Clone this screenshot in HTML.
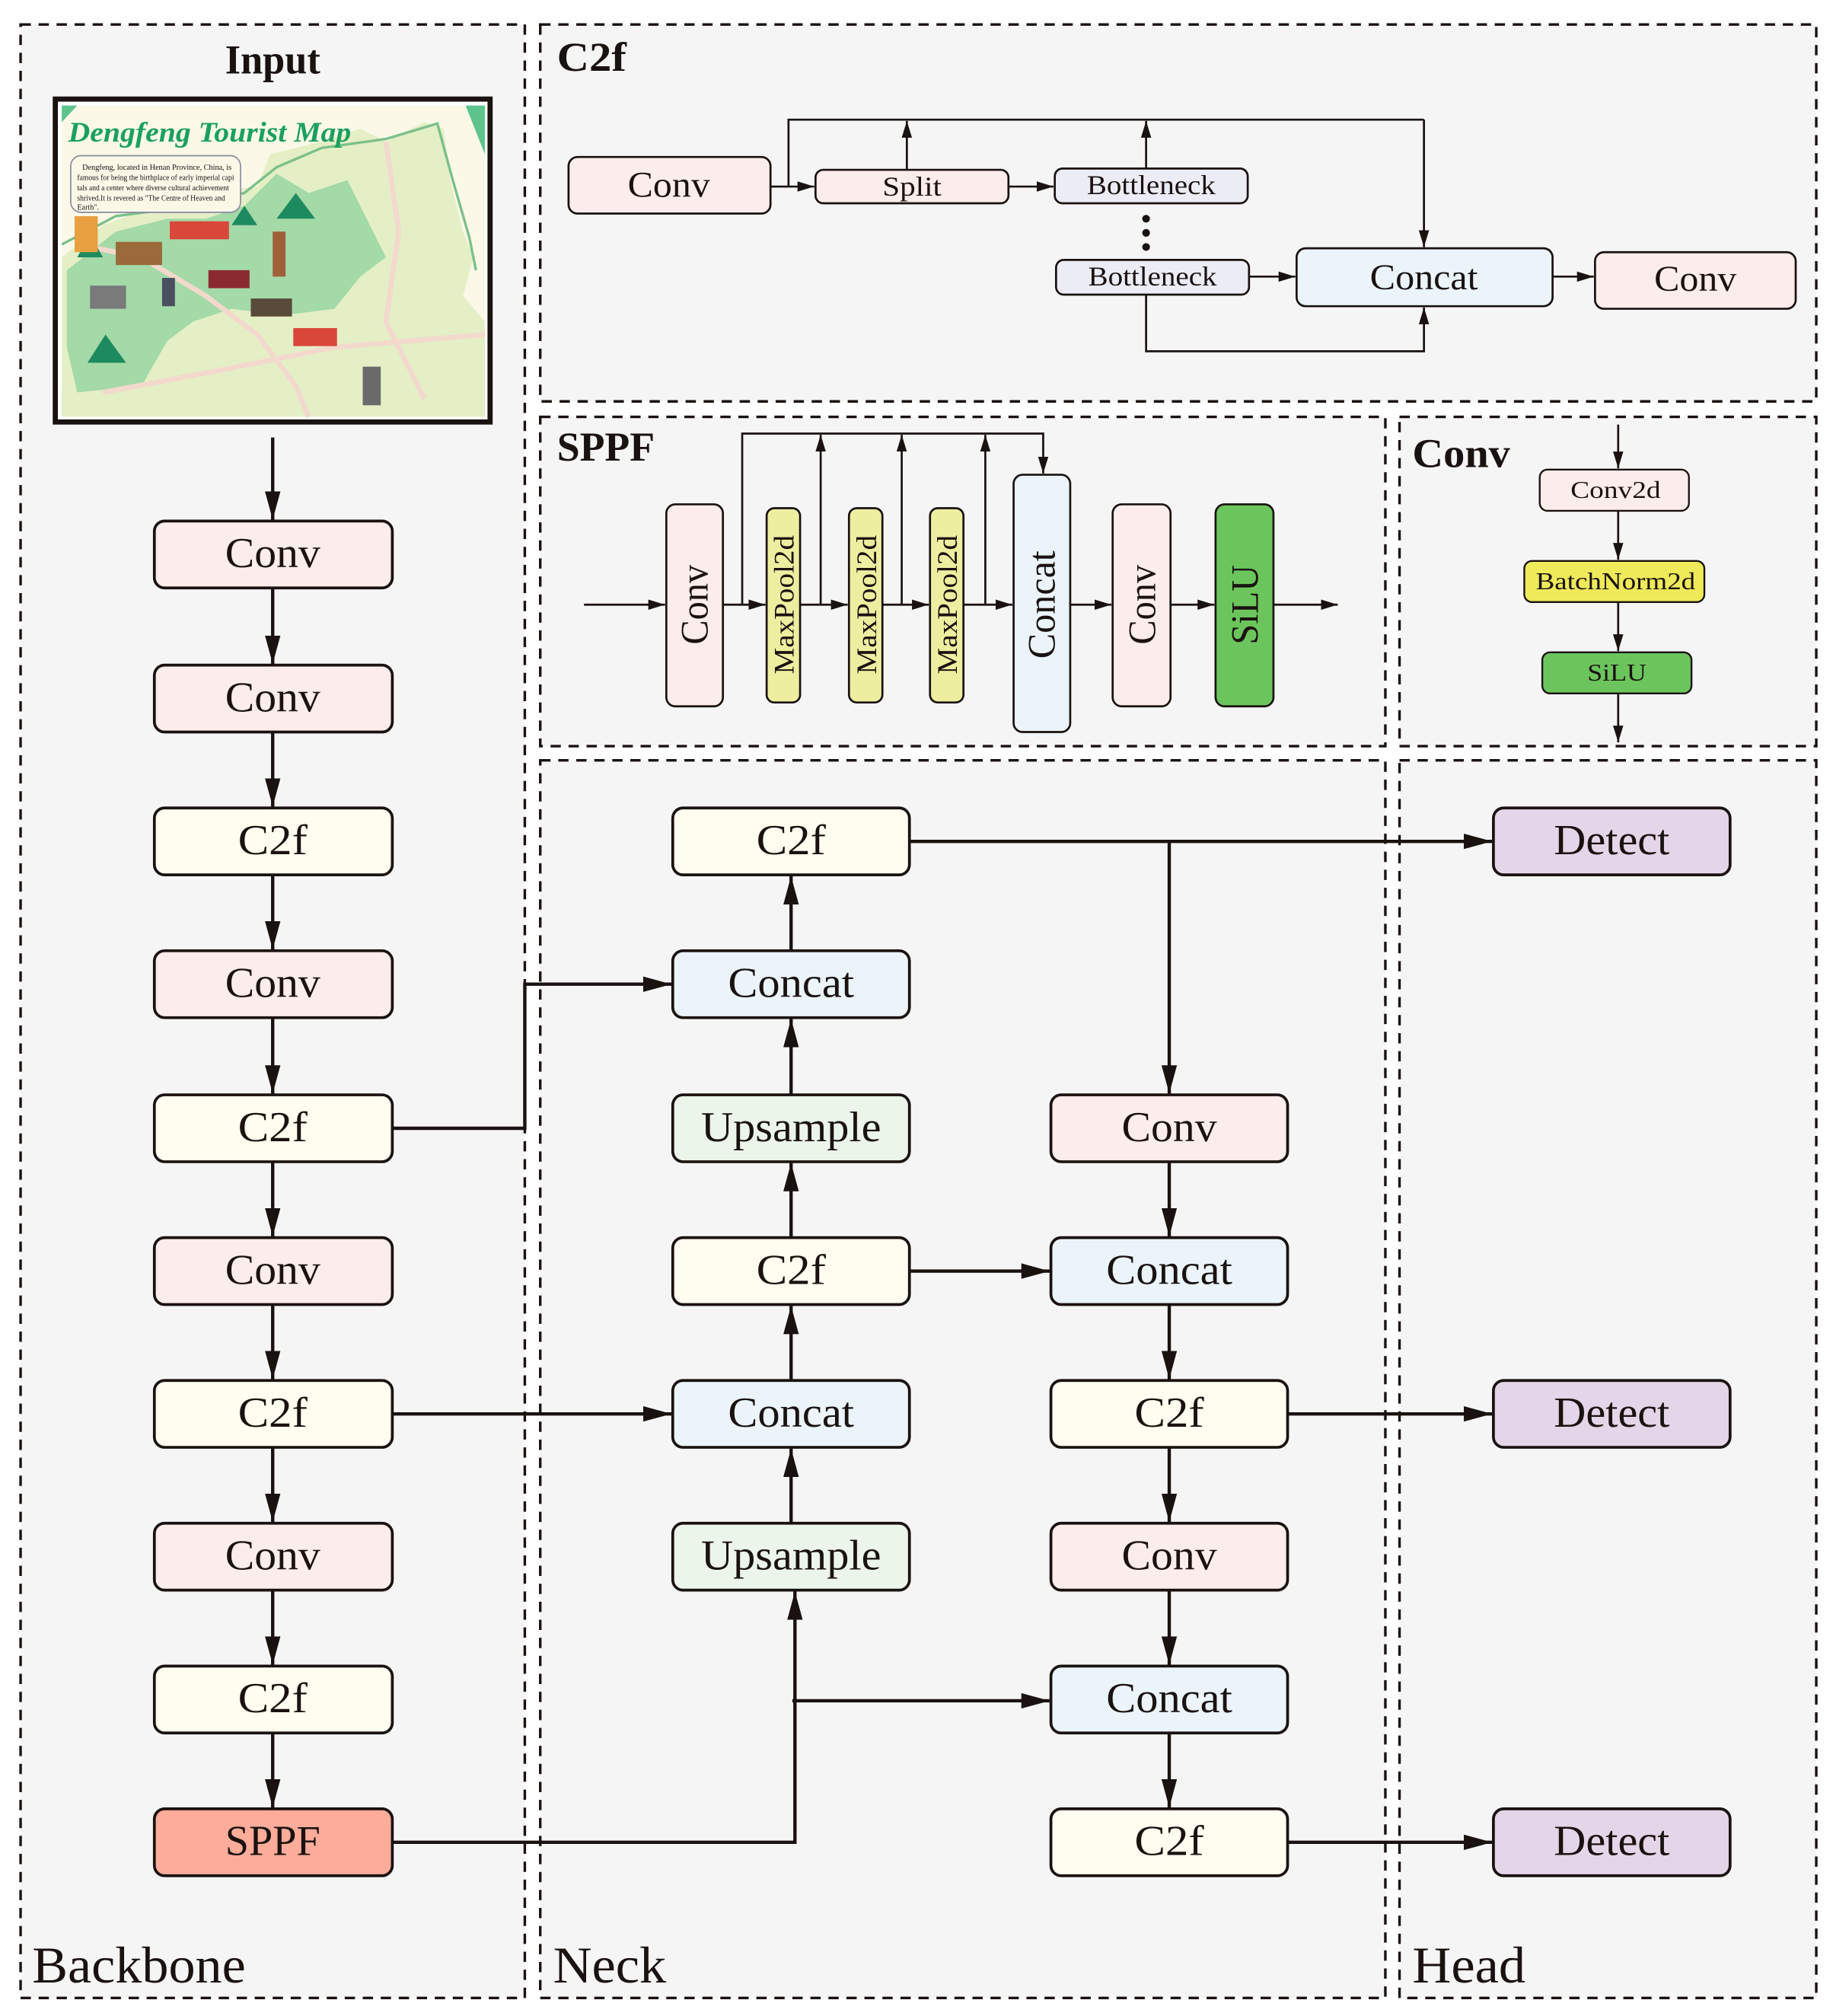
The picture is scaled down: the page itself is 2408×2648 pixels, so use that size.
<!DOCTYPE html>
<html><head><meta charset="utf-8"><style>
html,body{margin:0;padding:0;background:#fff;}
svg{display:block;}
text{font-family:"Liberation Serif",serif;fill:#1a1210;}
</style></head><body>
<svg xmlns="http://www.w3.org/2000/svg" width="2408" height="2648" viewBox="0 0 1425 1567">
<defs>
<marker id="A" markerUnits="userSpaceOnUse" markerWidth="24" markerHeight="14" refX="22" refY="7" orient="auto"><path d="M0,1 L22,7 L0,13 Z" fill="#1a1210"/></marker>
<marker id="a" markerUnits="userSpaceOnUse" markerWidth="14" markerHeight="10" refX="13" refY="5" orient="auto"><path d="M0,1 L13,5 L0,9 Z" fill="#1a1210"/></marker>
</defs>
<rect width="1425" height="1567" fill="#fff"/>
<!-- panels -->
<g fill="#f5f5f5" stroke="#1a1210" stroke-width="2" stroke-dasharray="8,6">
<rect x="16" y="19" width="392" height="1534"/>
<rect x="420" y="19" width="992" height="293"/>
<rect x="420" y="324" width="657" height="256"/>
<rect x="1088" y="324" width="324" height="256"/>
<rect x="420" y="591" width="657" height="962"/>
<rect x="1088" y="591" width="324" height="962"/>
</g>
<!-- titles -->
<text x="212" y="57" font-size="32" font-weight="bold" text-anchor="middle" textLength="74" lengthAdjust="spacingAndGlyphs">Input</text>
<text x="433" y="55" font-size="32" font-weight="bold" textLength="54" lengthAdjust="spacingAndGlyphs">C2f</text>
<text x="433" y="358" font-size="32" font-weight="bold" textLength="76" lengthAdjust="spacingAndGlyphs">SPPF</text>
<text x="1098" y="363" font-size="32" font-weight="bold" textLength="76" lengthAdjust="spacingAndGlyphs">Conv</text>
<text x="25" y="1541" font-size="40" textLength="166" lengthAdjust="spacingAndGlyphs">Backbone</text>
<text x="430" y="1541" font-size="40" textLength="88" lengthAdjust="spacingAndGlyphs">Neck</text>
<text x="1098" y="1541" font-size="40" textLength="88" lengthAdjust="spacingAndGlyphs">Head</text>

<!-- map -->
<rect x="43" y="77" width="338" height="251" fill="#fff" stroke="#1a1210" stroke-width="4"/>
<rect x="48" y="82" width="329" height="242" fill="#fbf8e8"/>
<path d="M48,82 L60,82 L48,95Z M377,82 L377,120 L362,82Z M48,300 L48,324 L80,324Z" fill="#5cc48c"/>
<path d="M48,200 L80,175 L120,160 L160,150 L200,145 L210,120 L250,110 L280,100 L300,110 L330,95 L345,100 L350,140 L360,180 L368,200 L360,230 L377,250 L377,324 L48,324Z" fill="#e4efc6"/>
<path d="M52,210 L90,180 L130,170 L160,170 L190,160 L215,135 L240,150 L270,140 L290,180 L300,200 L280,215 L260,240 L220,245 L180,240 L150,250 L130,265 L110,300 L60,305 L52,270Z" fill="#a4d9a8"/>
<path d="M48,190 L90,168 L150,160 L190,150 L215,130 L250,115 L300,108 L340,96 L352,140 L365,185 L370,210" fill="none" stroke="#7cc08a" stroke-width="2"/>
<path d="M60,190 L110,200 L160,230 L200,260 L230,300 L240,324 M80,305 L160,290 L260,270 L377,260 M300,110 L310,180 L300,250 L330,310" fill="none" stroke="#f3d9cc" stroke-width="4"/>
<text x="53" y="110" font-size="22" font-style="italic" font-weight="bold" style="fill:#1aa060" textLength="220" lengthAdjust="spacingAndGlyphs">Dengfeng Tourist Map</text>
<rect x="55" y="121" width="132" height="44" rx="8" fill="#fbf8e8" stroke="#8a8aa0" stroke-width="1"/>
<text x="64" y="132" font-size="6" textLength="116" lengthAdjust="spacingAndGlyphs">Dengfeng, located in Henan Province, China, is</text>
<text x="60" y="140" font-size="6" textLength="122" lengthAdjust="spacingAndGlyphs">famous for being the birthplace of early imperial capi</text>
<text x="60" y="148" font-size="6" textLength="118" lengthAdjust="spacingAndGlyphs">tals and a center where diverse cultural achievement</text>
<text x="60" y="156" font-size="6" textLength="115" lengthAdjust="spacingAndGlyphs">shrived.It is revered as "The Centre of Heaven and</text>
<text x="60" y="163" font-size="6">Earth".</text>
<path d="M60,200 L70,182 L80,200Z M180,175 L190,160 L200,175Z M215,170 L230,150 L245,170Z M68,282 L82,260 L98,282Z" fill="#1e8a60"/>
<rect x="132" y="172" width="46" height="14" fill="#d9473a"/><rect x="162" y="210" width="32" height="14" fill="#8a2a30"/>
<rect x="195" y="232" width="32" height="14" fill="#5a4a3a"/><rect x="228" y="255" width="34" height="14" fill="#d9473a"/>
<rect x="212" y="180" width="10" height="35" fill="#a0603a"/><rect x="282" y="285" width="14" height="30" fill="#6a6a6a"/>
<rect x="58" y="168" width="18" height="28" fill="#e8a040"/><rect x="90" y="188" width="36" height="18" fill="#9a6a3a"/>
<rect x="70" y="222" width="28" height="18" fill="#7a7a7a"/><rect x="126" y="216" width="10" height="22" fill="#4a5060"/>

<!-- backbone -->
<g stroke="#1a1210" stroke-width="2.2">
<rect x="120" y="405" width="185" height="52" rx="8" fill="#fdecec"/>
<rect x="120" y="517" width="185" height="52" rx="8" fill="#fdecec"/>
<rect x="120" y="628" width="185" height="52" rx="8" fill="#fefdf0"/>
<rect x="120" y="739" width="185" height="52" rx="8" fill="#fdecec"/>
<rect x="120" y="851" width="185" height="52" rx="8" fill="#fefdf0"/>
<rect x="120" y="962" width="185" height="52" rx="8" fill="#fdecec"/>
<rect x="120" y="1073" width="185" height="52" rx="8" fill="#fefdf0"/>
<rect x="120" y="1184" width="185" height="52" rx="8" fill="#fdecec"/>
<rect x="120" y="1295" width="185" height="52" rx="8" fill="#fefdf0"/>
<rect x="120" y="1406" width="185" height="52" rx="8" fill="#fdac9a"/>
<!-- neck col1 -->
<rect x="523" y="628" width="184" height="52" rx="8" fill="#fefdf0"/>
<rect x="523" y="739" width="184" height="52" rx="8" fill="#eaf4fa"/>
<rect x="523" y="851" width="184" height="52" rx="8" fill="#ebf5ea"/>
<rect x="523" y="962" width="184" height="52" rx="8" fill="#fefdf0"/>
<rect x="523" y="1073" width="184" height="52" rx="8" fill="#eaf4fa"/>
<rect x="523" y="1184" width="184" height="52" rx="8" fill="#ebf5ea"/>
<!-- neck col2 -->
<rect x="817" y="851" width="184" height="52" rx="8" fill="#fdecec"/>
<rect x="817" y="962" width="184" height="52" rx="8" fill="#eaf4fa"/>
<rect x="817" y="1073" width="184" height="52" rx="8" fill="#fefdf0"/>
<rect x="817" y="1184" width="184" height="52" rx="8" fill="#fdecec"/>
<rect x="817" y="1295" width="184" height="52" rx="8" fill="#eaf4fa"/>
<rect x="817" y="1406" width="184" height="52" rx="8" fill="#fefdf0"/>
<!-- head -->
<rect x="1161" y="628" width="184" height="52" rx="8" fill="#e5d5e8"/>
<rect x="1161" y="1073" width="184" height="52" rx="8" fill="#e5d5e8"/>
<rect x="1161" y="1406" width="184" height="52" rx="8" fill="#e5d5e8"/>
</g>
<g font-size="33" text-anchor="middle" lengthAdjust="spacingAndGlyphs">
<text x="212" y="441" textLength="74" lengthAdjust="spacingAndGlyphs">Conv</text>
<text x="212" y="553" textLength="74" lengthAdjust="spacingAndGlyphs">Conv</text>
<text x="212" y="664" textLength="54" lengthAdjust="spacingAndGlyphs">C2f</text>
<text x="212" y="775" textLength="74" lengthAdjust="spacingAndGlyphs">Conv</text>
<text x="212" y="887" textLength="54" lengthAdjust="spacingAndGlyphs">C2f</text>
<text x="212" y="998" textLength="74" lengthAdjust="spacingAndGlyphs">Conv</text>
<text x="212" y="1109" textLength="54" lengthAdjust="spacingAndGlyphs">C2f</text>
<text x="212" y="1220" textLength="74" lengthAdjust="spacingAndGlyphs">Conv</text>
<text x="212" y="1331" textLength="54" lengthAdjust="spacingAndGlyphs">C2f</text>
<text x="212" y="1442" textLength="74" lengthAdjust="spacingAndGlyphs">SPPF</text>
<text x="615" y="664" textLength="54" lengthAdjust="spacingAndGlyphs">C2f</text>
<text x="615" y="775" textLength="98" lengthAdjust="spacingAndGlyphs">Concat</text>
<text x="615" y="887" textLength="140" lengthAdjust="spacingAndGlyphs">Upsample</text>
<text x="615" y="998" textLength="54" lengthAdjust="spacingAndGlyphs">C2f</text>
<text x="615" y="1109" textLength="98" lengthAdjust="spacingAndGlyphs">Concat</text>
<text x="615" y="1220" textLength="140" lengthAdjust="spacingAndGlyphs">Upsample</text>
<text x="909" y="887" textLength="74" lengthAdjust="spacingAndGlyphs">Conv</text>
<text x="909" y="998" textLength="98" lengthAdjust="spacingAndGlyphs">Concat</text>
<text x="909" y="1109" textLength="54" lengthAdjust="spacingAndGlyphs">C2f</text>
<text x="909" y="1220" textLength="74" lengthAdjust="spacingAndGlyphs">Conv</text>
<text x="909" y="1331" textLength="98" lengthAdjust="spacingAndGlyphs">Concat</text>
<text x="909" y="1442" textLength="54" lengthAdjust="spacingAndGlyphs">C2f</text>
<text x="1253" y="664" textLength="90" lengthAdjust="spacingAndGlyphs">Detect</text>
<text x="1253" y="1109" textLength="90" lengthAdjust="spacingAndGlyphs">Detect</text>
<text x="1253" y="1442" textLength="90" lengthAdjust="spacingAndGlyphs">Detect</text>
</g>
<!-- main connectors -->
<g stroke="#1a1210" stroke-width="2.6" fill="none" marker-end="url(#A)">
<line x1="212" y1="340" x2="212" y2="404"/>
<line x1="212" y1="457" x2="212" y2="516"/>
<line x1="212" y1="569" x2="212" y2="627"/>
<line x1="212" y1="680" x2="212" y2="738"/>
<line x1="212" y1="791" x2="212" y2="850"/>
<line x1="212" y1="903" x2="212" y2="961"/>
<line x1="212" y1="1014" x2="212" y2="1072"/>
<line x1="212" y1="1125" x2="212" y2="1183"/>
<line x1="212" y1="1236" x2="212" y2="1294"/>
<line x1="212" y1="1347" x2="212" y2="1405"/>
<polyline points="305,877 408,877 408,765 522,765"/>
<line x1="305" y1="1099" x2="522" y2="1099"/>
<polyline points="305,1432 618,1432 618,1237"/>
<line x1="616" y1="1322" x2="816" y2="1322"/>
<line x1="615" y1="1184" x2="615" y2="1126"/>
<line x1="615" y1="1073" x2="615" y2="1015"/>
<line x1="615" y1="962" x2="615" y2="904"/>
<line x1="615" y1="851" x2="615" y2="792"/>
<line x1="615" y1="739" x2="615" y2="681"/>
<line x1="707" y1="988" x2="816" y2="988"/>
<line x1="707" y1="654" x2="1160" y2="654"/>
<line x1="909" y1="654" x2="909" y2="850"/>
<line x1="909" y1="903" x2="909" y2="961"/>
<line x1="909" y1="1014" x2="909" y2="1072"/>
<line x1="909" y1="1125" x2="909" y2="1183"/>
<line x1="909" y1="1236" x2="909" y2="1294"/>
<line x1="909" y1="1347" x2="909" y2="1405"/>
<line x1="1001" y1="1099" x2="1160" y2="1099"/>
<line x1="1001" y1="1432" x2="1160" y2="1432"/>
</g>

<!-- C2f panel -->
<g stroke="#1a1210" stroke-width="1.6">
<rect x="442" y="122" width="157" height="44" rx="7" fill="#fdecec"/>
<rect x="634" y="132" width="150" height="26" rx="6" fill="#fdecec"/>
<rect x="820" y="131" width="150" height="27" rx="6" fill="#ececf6"/>
<rect x="821" y="202" width="150" height="27" rx="6" fill="#ececf6"/>
<rect x="1008" y="193" width="199" height="45" rx="7" fill="#eaf4fa"/>
<rect x="1240" y="196" width="156" height="44" rx="7" fill="#fdecec"/>
</g>
<circle cx="891" cy="170" r="3" fill="#1a1210"/><circle cx="891" cy="181" r="3" fill="#1a1210"/><circle cx="891" cy="192" r="3" fill="#1a1210"/>
<g text-anchor="middle">
<text x="520" y="153" font-size="28" textLength="64" lengthAdjust="spacingAndGlyphs">Conv</text>
<text x="709" y="152" font-size="21" textLength="46" lengthAdjust="spacingAndGlyphs">Split</text>
<text x="895" y="151" font-size="21" textLength="100" lengthAdjust="spacingAndGlyphs">Bottleneck</text>
<text x="896" y="222" font-size="21" textLength="100" lengthAdjust="spacingAndGlyphs">Bottleneck</text>
<text x="1107" y="225" font-size="28" textLength="84" lengthAdjust="spacingAndGlyphs">Concat</text>
<text x="1318" y="226" font-size="28" textLength="64" lengthAdjust="spacingAndGlyphs">Conv</text>
</g>
<g stroke="#1a1210" stroke-width="1.6" fill="none">
<polyline points="613,145 613,93 1107,93"/>
<polyline points="1107,93 1107,192" marker-end="url(#a)"/>
<line x1="599" y1="145" x2="633" y2="145" marker-end="url(#a)"/>
<line x1="705" y1="132" x2="705" y2="94" marker-end="url(#a)"/>
<line x1="891" y1="131" x2="891" y2="94" marker-end="url(#a)"/>
<line x1="784" y1="145" x2="819" y2="145" marker-end="url(#a)"/>
<line x1="971" y1="215" x2="1007" y2="215" marker-end="url(#a)"/>
<polyline points="891,229 891,273 1107,273 1107,239" marker-end="url(#a)"/>
<line x1="1207" y1="215" x2="1239" y2="215" marker-end="url(#a)"/>
</g>

<!-- SPPF panel -->
<g stroke="#1a1210" stroke-width="1.6">
<rect x="518" y="392" width="44" height="157" rx="7" fill="#fdecec"/>
<rect x="596" y="395" width="26" height="151" rx="6" fill="#eeeea0"/>
<rect x="660" y="395" width="26" height="151" rx="6" fill="#eeeea0"/>
<rect x="723" y="395" width="26" height="151" rx="6" fill="#eeeea0"/>
<rect x="788" y="369" width="44" height="200" rx="7" fill="#eaf4fa"/>
<rect x="865" y="392" width="45" height="157" rx="7" fill="#fdecec"/>
<rect x="945" y="392" width="45" height="157" rx="7" fill="#6cc55c"/>
</g>
<g text-anchor="middle">
<text transform="translate(550,470) rotate(-90)" font-size="30" textLength="62" lengthAdjust="spacingAndGlyphs">Conv</text>
<text transform="translate(617,470) rotate(-90)" font-size="22" textLength="108" lengthAdjust="spacingAndGlyphs">MaxPool2d</text>
<text transform="translate(681,470) rotate(-90)" font-size="22" textLength="108" lengthAdjust="spacingAndGlyphs">MaxPool2d</text>
<text transform="translate(744,470) rotate(-90)" font-size="22" textLength="108" lengthAdjust="spacingAndGlyphs">MaxPool2d</text>
<text transform="translate(820,470) rotate(-90)" font-size="30" textLength="84" lengthAdjust="spacingAndGlyphs">Concat</text>
<text transform="translate(898,470) rotate(-90)" font-size="30" textLength="62" lengthAdjust="spacingAndGlyphs">Conv</text>
<text transform="translate(978,470) rotate(-90)" font-size="30" textLength="62" lengthAdjust="spacingAndGlyphs">SiLU</text>
</g>
<g stroke="#1a1210" stroke-width="1.6" fill="none">
<line x1="454" y1="470" x2="517" y2="470" marker-end="url(#a)"/>
<line x1="562" y1="470" x2="595" y2="470" marker-end="url(#a)"/>
<line x1="622" y1="470" x2="659" y2="470" marker-end="url(#a)"/>
<line x1="686" y1="470" x2="722" y2="470" marker-end="url(#a)"/>
<line x1="749" y1="470" x2="787" y2="470" marker-end="url(#a)"/>
<line x1="832" y1="470" x2="864" y2="470" marker-end="url(#a)"/>
<line x1="910" y1="470" x2="944" y2="470" marker-end="url(#a)"/>
<line x1="990" y1="470" x2="1040" y2="470" marker-end="url(#a)"/>
<polyline points="577,470 577,337 811,337 811,368" marker-end="url(#a)"/>
<line x1="638" y1="470" x2="638" y2="338" marker-end="url(#a)"/>
<line x1="701" y1="470" x2="701" y2="338" marker-end="url(#a)"/>
<line x1="766" y1="470" x2="766" y2="338" marker-end="url(#a)"/>
</g>

<!-- Conv panel -->
<g stroke="#1a1210" stroke-width="1.4">
<rect x="1197" y="365" width="116" height="32" rx="6" fill="#fdecec"/>
<rect x="1185" y="436" width="140" height="32" rx="6" fill="#eeea5a"/>
<rect x="1199" y="507" width="116" height="32" rx="6" fill="#6cc55c"/>
</g>
<g text-anchor="middle" font-size="19">
<text x="1256" y="387" textLength="70" lengthAdjust="spacingAndGlyphs">Conv2d</text>
<text x="1256" y="458" textLength="124" lengthAdjust="spacingAndGlyphs">BatchNorm2d</text>
<text x="1257" y="529" textLength="46" lengthAdjust="spacingAndGlyphs">SiLU</text>
</g>
<g stroke="#1a1210" stroke-width="1.6" fill="none" marker-end="url(#a)">
<line x1="1258" y1="330" x2="1258" y2="364"/>
<line x1="1258" y1="397" x2="1258" y2="435"/>
<line x1="1258" y1="468" x2="1258" y2="506"/>
<line x1="1258" y1="539" x2="1258" y2="577"/>
</g>
</svg>
</body></html>
